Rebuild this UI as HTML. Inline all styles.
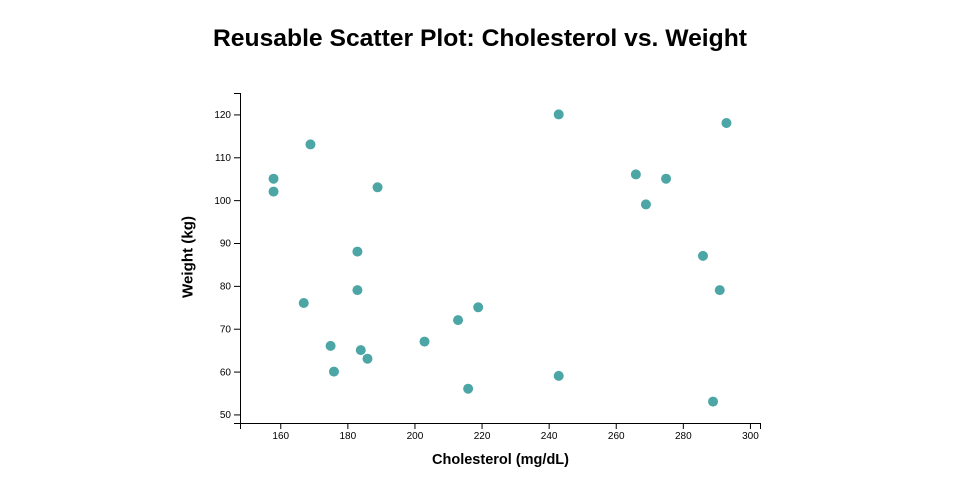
<!DOCTYPE html>
<html>
<head>
<meta charset="utf-8">
<style>
html,body{margin:0;padding:0;background:#fff;}
svg{display:block;}
text{font-family:"Liberation Sans","DejaVu Sans",sans-serif;}
</style>
</head>
<body>
<svg width="960" height="500" viewBox="0 0 960 500" xmlns="http://www.w3.org/2000/svg">
<rect width="960" height="500" fill="#fff"/>
<text x="480" y="46" text-anchor="middle" font-size="24" font-weight="bold" fill="#000" textLength="534" lengthAdjust="spacingAndGlyphs">Reusable Scatter Plot: Cholesterol vs. Weight</text>

<g transform="translate(240,93)">
  <!-- circles -->
  <g fill="teal" fill-opacity="0.7">
    <circle cx="33.55" cy="85.71" r="5"/>
    <circle cx="33.55" cy="98.57" r="5"/>
    <circle cx="70.45" cy="51.43" r="5"/>
    <circle cx="137.55" cy="94.29" r="5"/>
    <circle cx="117.42" cy="158.57" r="5"/>
    <circle cx="117.42" cy="197.14" r="5"/>
    <circle cx="63.74" cy="210.00" r="5"/>
    <circle cx="90.58" cy="252.86" r="5"/>
    <circle cx="93.94" cy="278.57" r="5"/>
    <circle cx="120.77" cy="257.14" r="5"/>
    <circle cx="127.48" cy="265.71" r="5"/>
    <circle cx="184.52" cy="248.57" r="5"/>
    <circle cx="218.06" cy="227.14" r="5"/>
    <circle cx="238.19" cy="214.29" r="5"/>
    <circle cx="228.13" cy="295.71" r="5"/>
    <circle cx="318.71" cy="21.43" r="5"/>
    <circle cx="318.71" cy="282.86" r="5"/>
    <circle cx="395.87" cy="81.43" r="5"/>
    <circle cx="426.06" cy="85.71" r="5"/>
    <circle cx="405.94" cy="111.43" r="5"/>
    <circle cx="462.97" cy="162.86" r="5"/>
    <circle cx="479.74" cy="197.14" r="5"/>
    <circle cx="473.03" cy="308.57" r="5"/>
    <circle cx="486.45" cy="30.00" r="5"/>
  </g>

  <!-- y axis -->
  <g font-size="10" fill="#000" text-anchor="end">
    <path d="M-6,330.5H0.5V0.5H-6" fill="none" stroke="#000" stroke-width="1"/>
    <g stroke="#000" stroke-width="1">
      <line x1="-6" x2="0" y1="321.93" y2="321.93"/>
      <line x1="-6" x2="0" y1="279.07" y2="279.07"/>
      <line x1="-6" x2="0" y1="236.21" y2="236.21"/>
      <line x1="-6" x2="0" y1="193.36" y2="193.36"/>
      <line x1="-6" x2="0" y1="150.5" y2="150.5"/>
      <line x1="-6" x2="0" y1="107.64" y2="107.64"/>
      <line x1="-6" x2="0" y1="64.79" y2="64.79"/>
      <line x1="-6" x2="0" y1="21.93" y2="21.93"/>
    </g>
    <text x="-9" y="321.93" dy="0.32em">50</text>
    <text x="-9" y="279.07" dy="0.32em">60</text>
    <text x="-9" y="236.21" dy="0.32em">70</text>
    <text x="-9" y="193.36" dy="0.32em">80</text>
    <text x="-9" y="150.5" dy="0.32em">90</text>
    <text x="-9" y="107.64" dy="0.32em">100</text>
    <text x="-9" y="64.79" dy="0.32em">110</text>
    <text x="-9" y="21.93" dy="0.32em">120</text>
  </g>

  <!-- x axis -->
  <g transform="translate(0,330)" font-size="10" fill="#000" text-anchor="middle">
    <path d="M0.5,6V0.5H520.5V6" fill="none" stroke="#000" stroke-width="1"/>
    <g stroke="#000" stroke-width="1">
      <line x1="40.76" x2="40.76" y1="0" y2="6"/>
      <line x1="107.85" x2="107.85" y1="0" y2="6"/>
      <line x1="174.95" x2="174.95" y1="0" y2="6"/>
      <line x1="242.05" x2="242.05" y1="0" y2="6"/>
      <line x1="309.15" x2="309.15" y1="0" y2="6"/>
      <line x1="376.24" x2="376.24" y1="0" y2="6"/>
      <line x1="443.34" x2="443.34" y1="0" y2="6"/>
      <line x1="510.44" x2="510.44" y1="0" y2="6"/>
    </g>
    <text x="40.76" y="9" dy="0.71em">160</text>
    <text x="107.85" y="9" dy="0.71em">180</text>
    <text x="174.95" y="9" dy="0.71em">200</text>
    <text x="242.05" y="9" dy="0.71em">220</text>
    <text x="309.15" y="9" dy="0.71em">240</text>
    <text x="376.24" y="9" dy="0.71em">260</text>
    <text x="443.34" y="9" dy="0.71em">280</text>
    <text x="510.44" y="9" dy="0.71em">300</text>
  </g>
</g>

<text x="500.5" y="464" text-anchor="middle" font-size="14.5" font-weight="bold" fill="#000" textLength="137" lengthAdjust="spacingAndGlyphs">Cholesterol (mg/dL)</text>
<text transform="translate(192.5,257) rotate(-90)" x="0" y="0" text-anchor="middle" font-size="14.5" font-weight="bold" fill="#000" textLength="82" lengthAdjust="spacingAndGlyphs">Weight (kg)</text>
</svg>
</body>
</html>
